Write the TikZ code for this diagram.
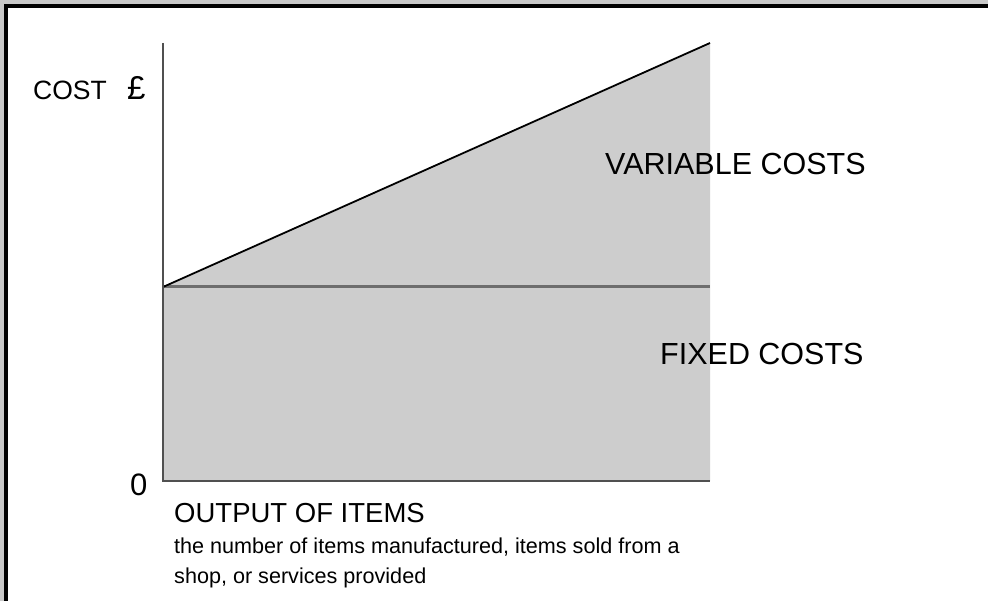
\documentclass[tikz,border=0pt]{standalone}
\usepackage{fontspec}
\setmainfont{Liberation Sans}
\usepackage{tikz}
\definecolor{framegray}{HTML}{C8C8C8}
\definecolor{areagray}{HTML}{CDCDCD}
\definecolor{axisgray}{HTML}{505050}
\definecolor{fixgray}{HTML}{6E6E6E}

\begin{document}
\begin{tikzpicture}[x=1pt,y=-1pt,
	lbl/.style={inner sep=0pt,anchor=base west,font=\fontsize{#1}{#1}\selectfont},
	axis/.style={draw=axisgray,line width=2.2pt},
	fixline/.style={draw=fixgray,line width=3pt},
	varline/.style={draw=black,line width=1.8pt}]
\useasboundingbox (0,0) rectangle (988,601);
\fill[framegray] (0,0) rectangle (988,601);
\fill[white] (8,8) rectangle (988,601);
\draw[black,line width=3.5pt] (6,601) -- (6,6) -- (988,6);
\coordinate (o) at (163,481);
\coordinate (ytop) at (163,43);
\coordinate (f0) at (163,287);
\coordinate (f1) at (710,287);
\coordinate (vtop) at (710,43);
\coordinate (xend) at (710,481);
\fill[areagray] (o) -- (f0) -- (vtop) -- (xend) -- cycle;
\draw[fixline] (f0) -- (f1);
\draw[varline] (f0) -- (vtop);
\draw[axis] (ytop) -- (o) -- (xend);
\node [lbl=26.5] (cost) at (33,100) {COST};
\node [lbl=33] (pound) at (127,100) {£};
\node [lbl=30.5] (var) at (605,175) {VARIABLE COSTS};
\node [lbl=30.5] (fix) at (660,365) {FIXED COSTS};
\node [lbl=31] (zero) at (130,495) {0};
\node [lbl=27.5] (out) at (174,522) {OUTPUT OF ITEMS};
\node [lbl=21.6] (desc1) at (174,553) {the number of items manufactured, items sold from a};
\node [lbl=21.6] (desc2) at (174,583) {shop, or services provided};
\end{tikzpicture}
\end{document}
